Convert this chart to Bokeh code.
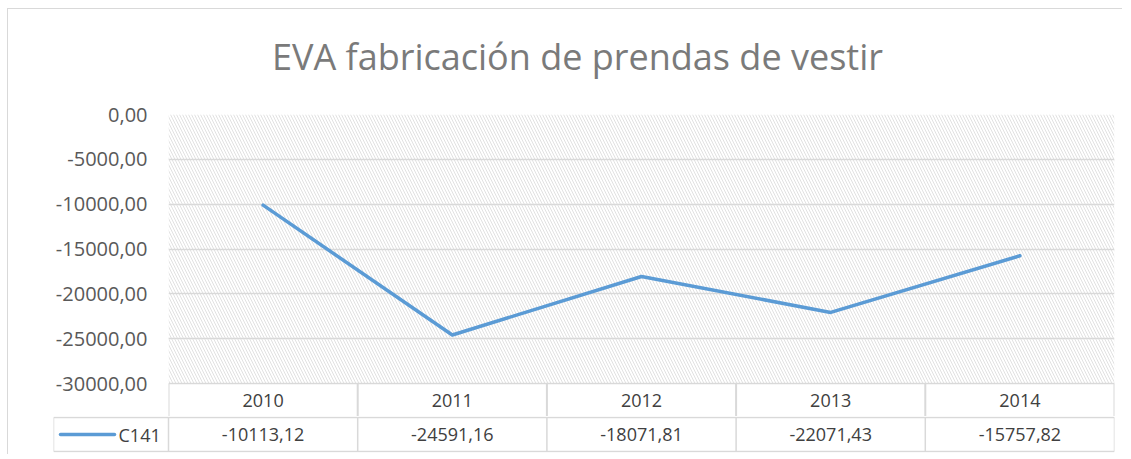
from bokeh.plotting import figure
from bokeh.layouts import column
from bokeh.models import FixedTicker, Range1d, ColumnDataSource
from bokeh.core.properties import value
from bokeh.embed import file_html
from bokeh.resources import INLINE

# ---- data ----
years = ["2010", "2011", "2012", "2013", "2014"]
values = [-10113.12, -24591.16, -18071.81, -22071.43, -15757.82]
value_labels = ["-10113,12", "-24591,16", "-18071,81", "-22071,43", "-15757,82"]
y_ticks = [0, -5000, -10000, -15000, -20000, -25000, -30000]
y_tick_labels = ["0,00", "-5000,00", "-10000,00", "-15000,00", "-20000,00", "-25000,00", "-30000,00"]
series_name = "C141"
title_text = "EVA fabricación de prendas de vestir"

FONT = "Open Sans"
GRID = "#d9d9d9"
BLUE = "#5B9BD5"
TXT = "#404040"
W = 1115

xs = list(range(len(years)))
x_lo, x_hi = -0.5, len(years) - 0.5
y_lo, y_hi = min(y_ticks), max(y_ticks)

# pixel geometry
PLOT_H = 269      # hatched plot area height
ROW_H = 34        # data table row height
COL_W = 189.2     # data table column width
per_px = (y_hi - y_lo) / PLOT_H
row_bottom = y_lo - ROW_H * per_px

# ---- title strip ----
TH = 85
tf = figure(width=W, height=TH, output_backend="svg", toolbar_location=None,
            x_range=Range1d(0, 1), y_range=Range1d(0, TH),
            min_border=0, x_axis_type=None, y_axis_type=None)
tf.frame_align = False
tf.outline_line_color = None
tf.xgrid.visible = False
tf.ygrid.visible = False
tf.text(x=[0.5103], y=[TH - 47], text=[title_text], text_align="center", text_baseline="middle",
        text_font=value(FONT), text_font_size="36px", text_color="#7a7a7a")

# ---- chart with year row ----
p = figure(width=W, height=322, output_backend="svg", toolbar_location=None,
           x_range=Range1d(x_lo, x_hi), y_range=Range1d(y_lo - (ROW_H - 1) * per_px, y_hi),
           min_border_left=160, min_border_right=9, min_border_top=20, min_border_bottom=0,
           x_axis_type=None)
p.frame_align = False
p.outline_line_color = None

hq = p.quad(left=[x_lo], right=[x_hi], bottom=[y_lo], top=[y_hi],
            fill_color=None, line_color=None,
            hatch_pattern="\\", hatch_color="#dedede", hatch_scale=6, hatch_weight=0.9)
hq.level = "image"

p.xgrid.visible = False
p.ygrid.ticker = FixedTicker(ticks=y_ticks)
p.ygrid.grid_line_color = GRID
p.ygrid.grid_line_width = 1.5

ax = p.yaxis[0]
ax.ticker = FixedTicker(ticks=y_ticks)
ax.major_label_overrides = {t: l for t, l in zip(y_ticks, y_tick_labels)}
ax.axis_line_color = None
ax.major_tick_line_color = None
ax.minor_tick_line_color = None
ax.major_tick_out = 0
ax.major_label_standoff = 21
ax.major_label_text_font = FONT
ax.major_label_text_font_size = "20px"
ax.major_label_text_color = "#595959"

ln = p.line(xs, values, line_color=BLUE, line_width=3.5, line_cap="round", line_join="round")

# year row of the data table
vx = [x_lo + i for i in range(len(years) + 1)]
p.segment(x0=vx, x1=vx, y0=[row_bottom] * len(vx), y1=[y_lo] * len(vx), line_color=GRID, line_width=2)
src_y = ColumnDataSource(dict(x=xs, yr=years, y=[(y_lo + row_bottom) / 2] * len(xs)))
p.text(x="x", y="y", text="yr", source=src_y, text_align="center", text_baseline="middle",
       text_font=value(FONT), text_font_size="18px", text_color=TXT)

# ---- value row with legend key ----
t_lo = x_hi - (W - 45 - 9) / COL_W
t = figure(width=W, height=39, output_backend="svg", toolbar_location=None,
           x_range=Range1d(t_lo, x_hi), y_range=Range1d(-1 / ROW_H, 1 + 1 / ROW_H),
           min_border_left=45, min_border_right=9, min_border_top=0, min_border_bottom=3,
           x_axis_type=None, y_axis_type=None)
t.frame_align = False
t.outline_line_color = None
t.xgrid.visible = False
t.ygrid.visible = False

t.segment(x0=[t_lo, t_lo], x1=[x_hi, x_hi], y0=[0, 1], y1=[0, 1], line_color=GRID, line_width=1.5)
vx2 = [t_lo] + vx
t.segment(x0=vx2, x1=vx2, y0=[0] * len(vx2), y1=[1] * len(vx2), line_color=GRID, line_width=1.5)

src_v = ColumnDataSource(dict(x=xs, vl=value_labels, y=[0.5] * len(xs)))
t.text(x="x", y="y", text="vl", source=src_v, text_align="center", text_baseline="middle",
       text_font=value(FONT), text_font_size="18px", text_color=TXT)

px = 1 / COL_W
t.line([t_lo + 7 * px, t_lo + 61 * px], [0.5, 0.5], line_color=BLUE, line_width=3.5, line_cap="round")
t.text(x=[t_lo + 65 * px], y=[0.5], text=[series_name], text_align="left", text_baseline="middle",
       text_font=value(FONT), text_font_size="18px", text_color=TXT)

layout = column(tf, p, t, spacing=0, margin=(9, 0, 0, 8),
                styles={"box-shadow": "-1px -1px 0 #d9d9d9"})
open("out.html", "w").write(file_html(layout, INLINE))
